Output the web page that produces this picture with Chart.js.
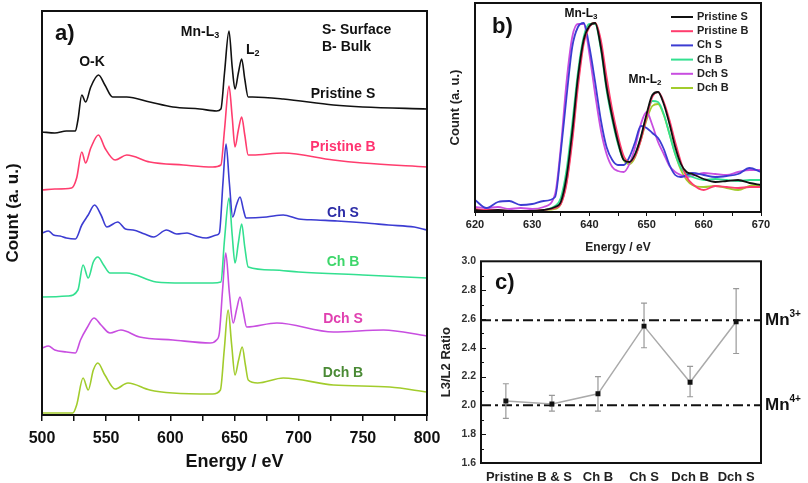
<!DOCTYPE html>
<html>
<head>
<meta charset="utf-8">
<script src="https://cdn.jsdelivr.net/npm/chart.js@4.4.0/dist/chart.umd.min.js"></script>
<style>
  body { margin: 0; background: #fff; width: 808px; height: 483px; overflow: hidden; position: relative; }
  canvas { position: absolute; }
  #ca { left: 0; top: 0; }
  #cb { left: 440px; top: 0; }
  #cc { left: 430px; top: 250px; }
</style>
</head>
<body>
<canvas id="ca" width="450" height="483"></canvas>
<canvas id="cb" width="368" height="260"></canvas>
<canvas id="cc" width="378" height="233"></canvas>
<script>
const FONT = '"Liberation Sans", Arial, sans-serif';
Chart.defaults.font.family = FONT;

// ---- panel a: full spectra (energy eV, count a.u. incl. stacking offset) ----
const namesA = ['Pristine S', 'Pristine B', 'Ch S', 'Ch B', 'Dch S', 'Dch B'];
const lineColors = ['#111111', '#ff3d6e', '#3c3cd2', '#33e090', '#c84ee0', '#a2cc2c'];
const labelColors = ['#111111', '#ff3370', '#2b2ba6', '#3dd66a', '#e040b0', '#4a8a35'];

const aPristineS = [[500,283],[510,282],[519,284],[526,284],[528,295],[531,320],[534,313],[538,328],[544,340],[549,330],[555,318],[566,318],[584,313],[602,308],[623,306],[636,304],[639.4,306],[642.2,342],[645.7,384],[648.2,348],[650.4,326],[653,342],[655.6,356],[658,336],[660.7,318],[664,318],[688,316],[727,310],[750,308],[800,306]];
const aPristineB = [[500,225],[510,226],[523,227],[527,237],[531,263],[534,252],[538,267],[544,280],[549,267],[557,255],[566,260],[584,253],[610,250],[633,248],[639.4,250],[642.2,285],[645.7,329],[648.2,298],[650.4,268],[653,285],[655.6,298],[658,280],[660.7,260],[664,260],[688,262],[727,255],[750,252],[800,248]];
const aChS = [[500,182],[505,184],[509,180],[514,179],[519,177],[526,176],[531,190],[536,200],[541,210],[546,200],[550.5,188],[559,193],[565,186],[571,185],[580,181],[587,178],[597,185],[605,181],[613,182],[620,179],[628,177],[636,180],[638.2,182],[641,232],[643.4,271],[646,232],[648.6,198],[651.5,210],[654.3,218],[657,205],[659,197],[675,198],[688,200],[700,196],[714,195],[730,194],[753,192],[770,190],[790,188],[800,185]];
const aChB = [[500,118],[520,119],[528,125],[532,150],[536,137],[540,153],[543.5,158],[548,150],[553,142],[566,142],[589,133],[610,132],[633,132],[639.4,133],[642.2,175],[645.7,217],[648.2,180],[650.4,152],[653,172],[655.6,191],[658,168],[660.7,148],[680,145],[700,143],[750,140],[800,137]];
const aDchS = [[500,67],[505,69],[510,65],[519,63],[526,62],[530,75],[535,87],[540.5,97],[546,90],[553,82],[561.5,85],[576,78],[602,75],[631,72],[636,75],[638.2,82],[640.7,125],[643.2,162],[646,122],[649,92],[651.7,106],[654.3,118],[657,102],[659.5,88],[683,92],[727,83],[766,85],[800,79]];
const aDchB = [[500,2],[524,2],[527,10],[532,37],[536,25],[540,45],[543.5,52],[549,40],[557,26],[567,32],[584,25],[602,22],[633,21],[639,25],[642,65],[645,105],[647.8,70],[650.4,40],[653.2,55],[656,68],[658.5,50],[660.7,35],[668,32],[688,37],[727,30],[771,28],[800,23]];
const seriesA = [aPristineS, aPristineB, aChS, aChB, aDchS, aDchB];

// ---- panel b: Mn-L edge, normalised ----
const energyB = [620,622,624,626,628,630,632,634,635,636,637,638,639,640,641,642,643,644,645,646,647,648,649,650,651,652,653,654,655,656,657,658,660,662,664,666,668,670];
const bPristineS = [2,1,2,1,1,1,2,5,10,35,80,135,172,186,189,165,125,95,70,52,50,58,75,98,117,120,108,88,65,48,40,38,33,30,31,32,29,27];
const bPristineB = [3,2,2,1,0,1,2,4,8,28,70,125,168,185,189,172,135,102,76,56,50,56,72,95,115,120,110,92,70,50,35,28,22,26,25,24,25,25];
const bChS = [12,4,10,11,7,8,11,15,60,115,165,185,189,165,130,92,65,52,47,47,55,70,86,84,79,74,63,47,37,35,37,39,37,35,36,38,44,40];
const bChB = [1,1,1,1,1,1,2,6,14,42,88,140,175,188,188,163,122,92,68,52,50,58,75,96,111,110,98,78,58,44,38,35,32,33,32,31,32,32];
const bDchS = [5,4,5,3,4,3,5,18,65,130,175,188,188,158,118,82,58,45,41,40,48,65,88,100,87,70,58,46,40,37,35,36,39,38,37,40,42,42];
const bDchB = [2,1,1,1,1,1,2,3,8,30,75,130,170,186,189,168,128,96,70,52,48,55,72,92,106,108,97,78,58,42,32,27,25,26,24,22,26,27];
const seriesB = [bPristineS, bPristineB, bChS, bChB, bDchS, bDchB];

// ---- panel c: L3/L2 ratio ----
const ratioPos = [1, 2, 3, 4, 5, 6];
const ratioVal = [2.03, 2.01, 2.08, 2.55, 2.16, 2.58];
const ratioLow = [1.91, 1.96, 1.96, 2.40, 2.06, 2.36];
const ratioHigh = [2.15, 2.07, 2.20, 2.71, 2.27, 2.81];
const ratioNames = ['Pristine B & S', 'Ch B', 'Ch S', 'Dch B', 'Dch S'];
const ratioNamePos = [1.5, 3, 4, 5, 6];
const mn3Level = 2.59;
const mn4Level = 2.0;

// draw text made of parts, e.g. Mn-L with subscript 3
function richText(ctx, parts, x, y, align, color) {
  ctx.save();
  ctx.fillStyle = color || '#111';
  ctx.textBaseline = 'middle';
  ctx.textAlign = 'left';
  let w = 0;
  parts.forEach(p => { ctx.font = 'bold ' + p.size + 'px ' + FONT; w += ctx.measureText(p.t).width; });
  let cx = align === 'center' ? x - w / 2 : (align === 'right' ? x - w : x);
  parts.forEach(p => {
    ctx.font = 'bold ' + p.size + 'px ' + FONT;
    ctx.fillText(p.t, cx, y + (p.dy || 0));
    cx += ctx.measureText(p.t).width;
  });
  ctx.restore();
}

function frame(chart, lw) {
  const a = chart.chartArea, ctx = chart.ctx;
  ctx.save();
  ctx.strokeStyle = '#111';
  ctx.lineWidth = lw;
  ctx.strokeRect(a.left, a.top, a.right - a.left, a.bottom - a.top);
  ctx.restore();
}

const panelA = {
  id: 'panelA',
  afterDraw(chart) {
    const ctx = chart.ctx;
    frame(chart, 2);
    richText(ctx, [{t: 'a)', size: 22}], 55, 34, 'left');
    richText(ctx, [{t: 'O-K', size: 14}], 92, 62, 'center');
    richText(ctx, [{t: 'Mn-L', size: 14}, {t: '3', size: 9, dy: 4}], 200, 32, 'center');
    richText(ctx, [{t: 'L', size: 14}, {t: '2', size: 9, dy: 4}], 246, 50, 'left');
    richText(ctx, [{t: 'S- Surface', size: 14}], 322, 30, 'left');
    richText(ctx, [{t: 'B- Bulk', size: 14}], 322, 47, 'left');
    const ys = [94, 147, 213, 262, 319, 373];
    namesA.forEach((n, i) => richText(ctx, [{t: n, size: 14}], 343, ys[i], 'center', labelColors[i]));
  }
};

const panelB = {
  id: 'panelB',
  afterDraw(chart) {
    const ctx = chart.ctx;
    frame(chart, 2);
    richText(ctx, [{t: 'b)', size: 22}], 52, 27, 'left');
    richText(ctx, [{t: 'Mn-L', size: 12}, {t: '3', size: 8, dy: 3}], 141, 14, 'center');
    richText(ctx, [{t: 'Mn-L', size: 12}, {t: '2', size: 8, dy: 3}], 205, 80, 'center');
    chart.data.datasets.forEach((d, i) => {
      const y = 17 + i * 14.2;
      ctx.save();
      ctx.strokeStyle = d.borderColor;
      ctx.lineWidth = 2;
      ctx.beginPath(); ctx.moveTo(231, y); ctx.lineTo(253, y); ctx.stroke();
      ctx.restore();
      richText(ctx, [{t: d.label, size: 11}], 257, y, 'left', '#222');
    });
  }
};

const panelC = {
  id: 'panelC',
  beforeDatasetsDraw(chart) {
    const ctx = chart.ctx, a = chart.chartArea;
    const xs = chart.scales.x, ys = chart.scales.y;
    ctx.save();
    ctx.strokeStyle = '#111';
    ctx.lineWidth = 2;
    ctx.setLineDash([10, 4, 3, 4]);
    [mn3Level, mn4Level].forEach(v => {
      const y = ys.getPixelForValue(v);
      ctx.beginPath(); ctx.moveTo(a.left, y); ctx.lineTo(a.right, y); ctx.stroke();
    });
    ctx.setLineDash([]);
    ctx.strokeStyle = '#999';
    ctx.lineWidth = 1.2;
    ratioPos.forEach((p, i) => {
      const x = xs.getPixelForValue(p);
      const y1 = ys.getPixelForValue(ratioLow[i]), y2 = ys.getPixelForValue(ratioHigh[i]);
      ctx.beginPath();
      ctx.moveTo(x, y1); ctx.lineTo(x, y2);
      ctx.moveTo(x - 3, y1); ctx.lineTo(x + 3, y1);
      ctx.moveTo(x - 3, y2); ctx.lineTo(x + 3, y2);
      ctx.stroke();
    });
    ctx.restore();
  },
  afterDraw(chart) {
    const ctx = chart.ctx, a = chart.chartArea, ys = chart.scales.y;
    frame(chart, 2);
    ctx.save();
    ctx.strokeStyle = '#111';
    ctx.lineWidth = 1;
    for (let k = 16; k <= 30; k++) {
      const y = Math.round(ys.getPixelForValue(k / 10)) + 0.5;
      const len = k % 2 === 0 ? 5 : 3;
      ctx.beginPath(); ctx.moveTo(a.left, y); ctx.lineTo(a.left + len, y); ctx.stroke();
    }
    ctx.restore();
    richText(ctx, [{t: 'c)', size: 22}], 65, 33, 'left');
    richText(ctx, [{t: 'Mn', size: 17}, {t: '3+', size: 10, dy: -6}], 335, ys.getPixelForValue(mn3Level), 'left');
    richText(ctx, [{t: 'Mn', size: 17}, {t: '4+', size: 10, dy: -6}], 335, ys.getPixelForValue(mn4Level), 'left');
  }
};

const tickFont = (s) => ({family: FONT, size: s, weight: 'bold'});

// panel a
new Chart(document.getElementById('ca'), {
  type: 'line',
  data: {
    datasets: seriesA.map((d, i) => ({
      label: namesA[i], data: d, borderColor: lineColors[i], borderWidth: 1.6,
      pointRadius: 0, cubicInterpolationMode: 'monotone'
    }))
  },
  options: {
    responsive: false, animation: false,
    layout: {padding: {left: 0, top: 11, right: 23, bottom: 0}},
    plugins: {legend: {display: false}, tooltip: {enabled: false}},
    scales: {
      x: {
        type: 'linear', min: 500, max: 800,
        ticks: {stepSize: 25, autoSkip: false, maxRotation: 0, padding: 8, color: '#111', font: tickFont(16),
                callback: v => (v % 50 === 0 ? v : '')},
        grid: {drawOnChartArea: false, tickLength: 6, color: '#111', lineWidth: 1.5},
        border: {display: false},
        title: {display: true, text: 'Energy / eV', color: '#111', font: tickFont(18), padding: {top: 0, bottom: 10}},
        afterFit: s => { s.height = 68; }
      },
      y: {
        min: 0, max: 404,
        ticks: {display: false}, grid: {display: false}, border: {display: false},
        title: {display: true, text: 'Count (a. u.)', color: '#111', font: tickFont(17), padding: {top: 3, bottom: 0}},
        afterFit: s => { s.width = 42; }
      }
    }
  },
  plugins: [panelA]
});

// panel b
new Chart(document.getElementById('cb'), {
  type: 'line',
  data: {
    labels: energyB,
    datasets: seriesB.map((d, i) => ({
      label: namesA[i], data: d.map((v, k) => ({x: energyB[k], y: v})), borderColor: lineColors[i],
      borderWidth: 1.8, pointRadius: 0, cubicInterpolationMode: 'monotone'
    }))
  },
  options: {
    responsive: false, animation: false,
    layout: {padding: {left: 0, top: 3, right: 47, bottom: 0}},
    plugins: {legend: {display: false}, tooltip: {enabled: false}},
    scales: {
      x: {
        type: 'linear', min: 620, max: 670,
        ticks: {stepSize: 5, autoSkip: false, maxRotation: 0, padding: 2, color: '#222', font: tickFont(11),
                callback: v => (v % 10 === 0 ? v : '')},
        grid: {drawOnChartArea: false, tickLength: 4, color: '#111', lineWidth: 1},
        border: {display: false},
        title: {display: true, text: 'Energy / eV', color: '#222', font: tickFont(12), padding: {top: 0, bottom: 5}},
        afterFit: s => { s.height = 48; }
      },
      y: {
        min: 0, max: 209,
        ticks: {display: false}, grid: {display: false}, border: {display: false},
        title: {display: true, text: 'Count (a. u.)', color: '#222', font: tickFont(13), padding: {top: 8, bottom: 0}},
        afterFit: s => { s.width = 35; }
      }
    }
  },
  plugins: [panelB]
});

// panel c
new Chart(document.getElementById('cc'), {
  type: 'line',
  data: {
    datasets: [{
      label: 'L3/L2', data: ratioPos.map((p, i) => ({x: p, y: ratioVal[i]})),
      borderColor: '#aaaaaa', borderWidth: 1.5, tension: 0,
      pointStyle: 'rect', pointRadius: 3.5, pointBackgroundColor: '#111', pointBorderColor: '#111', pointBorderWidth: 0
    }]
  },
  options: {
    responsive: false, animation: false,
    layout: {padding: {left: 0, top: 8, right: 47, bottom: 0}},
    plugins: {legend: {display: false}, tooltip: {enabled: false}},
    scales: {
      x: {
        type: 'linear', min: 0.46, max: 6.54,
        afterBuildTicks: s => { s.ticks = ratioNamePos.map(v => ({value: v})); },
        ticks: {autoSkip: false, maxRotation: 0, padding: 7, color: '#222', font: tickFont(13),
                callback: (v, i) => ratioNames[i]},
        grid: {display: false, drawTicks: false}, border: {display: false},
        afterFit: s => { s.height = 20; }
      },
      y: {
        min: 1.6, max: 3.0,
        ticks: {stepSize: 0.2, padding: 5, color: '#333', font: tickFont(10.5), callback: v => v.toFixed(1)},
        grid: {display: false, drawTicks: false}, border: {display: false},
        title: {display: true, text: 'L3/L2 Ratio', color: '#222', font: tickFont(13), padding: {top: 9, bottom: 0}},
        afterFit: s => { s.width = 51; }
      }
    }
  },
  plugins: [panelC]
});
</script>
</body>
</html>
